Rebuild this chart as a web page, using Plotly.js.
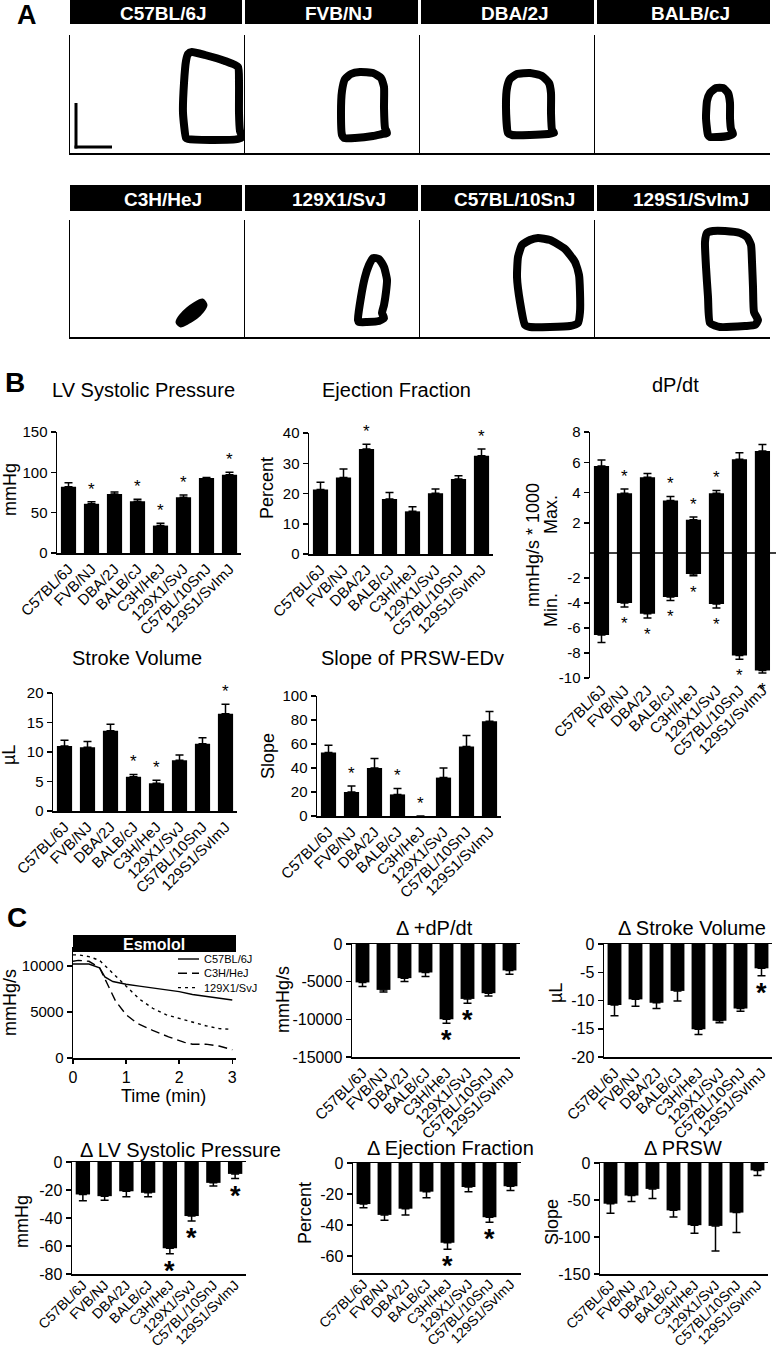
<!DOCTYPE html>
<html><head><meta charset="utf-8">
<script src="https://cdn.plot.ly/plotly-3.0.1.min.js"></script>
<style>html,body{margin:0;padding:0;background:#fff}#chart{width:776px;height:1350px}</style>
</head><body><div id="chart"></div>
<script>
const FONT = 'Liberation Sans, Arial, Helvetica, sans-serif';
const W = 776, H = 1350;
const STRAINS = ['C57BL/6J','FVB/NJ','DBA/2J','BALB/cJ','C3H/HeJ','129X1/SvJ','C57BL/10SnJ','129S1/SvImJ'];

// ---------- Panel A: pressure-volume loops (arbitrary units) ----------
const loopV_C57BL6J = [116,113,114,116,118,122,135,155,168,169,169,170,172,168,140,118,116];
const loopP_C57BL6J = [15,40,70,92,99,101,98,92,86,70,40,22,16,14,13,14,15];
const loopV_FVB = [97,96,97,100,106,115,128,136,139,139,140,142,137,128,110,99,97];
const loopP_FVB = [18,40,62,74,79,81,80,75,66,45,25,20,19,17,15,15,18];
const loopV_DBA = [88,86,87,90,97,110,122,129,131,131,132,134,128,110,92,88];
const loopP_DBA = [20,45,65,74,79,80,77,70,60,40,23,20,19,18,18,20];
const loopV_BALB = [113,111,112,115,121,128,133,135,135,136,138,133,122,115,113];
const loopP_BALB = [18,35,52,60,65,65,60,50,35,24,19,17,16,16,18];
const loopV_C3H = [109,112,119,126,132,134,131,125,117,111,109];
const loopP_C3H = [15,20,27,32,35,32,27,21,16,13,15];
const loopV_129X1 = [113,116,120,124,128,134,139,142,141,139,137,139,134,122,114,113];
const loopP_129X1 = [17,40,60,72,79,78,70,57,45,32,24,19,16,15,15,17];
const loopV_C57BL10 = [105,100,97,98,102,110,118,130,145,155,159,160,160,158,150,130,110,105];
const loopP_C57BL10 = [12,35,60,80,92,97,99,97,88,75,62,45,25,14,11,10,10,12];
const loopV_129S1 = [115,113,111,110,112,118,130,145,152,156,157,158,159,163,160,150,125,115];
const loopP_129S1 = [14,40,70,95,104,106,106,104,100,92,75,50,25,17,12,11,10,14];

// ---------- Panel B ----------
const lvspMean = [82, 61, 73, 64, 34, 69, 93, 97];
const lvspSem  = [5, 2.5, 2.5, 2.5, 3, 3, 0.5, 3];
const lvspSig  = [0,1,0,1,1,1,0,1];
const efMean = [21.3,25.3,34.7,18.2,14.1,20.1,24.8,32.5];
const efSem  = [2.4,2.8,1.6,2.1,1.5,1.4,1.1,2.2];
const efSig  = [0,0,1,0,0,0,0,1];
const dpMaxMean = [5.75,3.95,5.0,3.47,2.2,3.95,6.2,6.75];
const dpMaxSem  = [0.4,0.28,0.26,0.27,0.18,0.19,0.42,0.42];
const dpMaxSig  = [0,1,0,1,1,1,0,0];
const dpMinMean = [-6.55,-4.0,-4.85,-3.52,-1.68,-4.08,-8.2,-9.4];
const dpMinSem  = [0.6,0.32,0.35,0.27,0.13,0.32,0.3,0.2];
const dpMinSig  = [0,1,1,1,1,1,1,1];
const svMean = [11.0,10.8,13.6,5.8,4.7,8.6,11.4,16.5];
const svSem  = [1.0,1.0,1.1,0.4,0.5,0.9,1.0,1.6];
const svSig  = [0,0,0,1,1,0,0,1];
const prswMean = [53,20,40,18,0,32,58,79];
const prswSem  = [6,5,8,5,0,8,9,8];
const prswSig  = [0,1,0,1,1,0,0,0];

// ---------- Panel C: esmolol time course ----------
const tC57 = [0,0.3,0.5,0.6,0.75,1.0,1.25,1.5,1.75,2.0,2.25,2.5,2.75,3.0];
const vC57 = [10200,10200,9800,8800,8300,8000,7800,7600,7400,7200,6900,6700,6500,6300];
const tC3H = [0,0.1,0.3,0.5,0.65,0.8,1.0,1.2,1.5,1.8,2.1,2.25,2.5,2.75,3.0];
const vC3H = [10500,10600,10500,9800,8000,6200,4700,3800,3000,2300,1700,1500,1500,1300,900];
const t129 = [0,0.1,0.3,0.5,0.75,1.0,1.25,1.5,1.75,2.0,2.25,2.5,2.75,3.0];
const v129 = [11200,11200,11000,10600,9200,7800,6400,5400,4700,4300,3900,3500,3200,3100];

// ---------- Panel C: changes with esmolol ----------
const dDpMean = [-5100,-6090,-4530,-3780,-10000,-7290,-6530,-3510];
const dDpSem  = [540,270,450,530,530,580,360,490];
const dDpSig  = [0,0,0,0,1,1,0,0];
const dSvMean = [-10.8,-9.8,-10.4,-8.3,-15.1,-13.6,-11.4,-4.3];
const dSvSem  = [1.9,1.2,1.0,1.8,0.9,0.35,0.5,1.3];
const dSvSig  = [0,0,0,0,0,0,0,1];
const dLvMean = [-23.2,-24.4,-20.9,-22.0,-61.6,-38.6,-14.9,-8.5];
const dLvSem  = [4.5,2.9,4.0,2.9,4.0,3.6,2.2,3.3];
const dLvSig  = [0,0,0,0,1,1,0,1];
const dEfMean = [-26.5,-33.5,-29.5,-18.5,-51.5,-15.5,-35,-15];
const dEfSem  = [2.4,3.5,4.0,4.0,4.2,3.0,3.3,2.8];
const dEfSig  = [0,0,0,0,1,0,1,0];
const dPrswMean = [-55,-44,-35,-64,-84,-85,-67,-10];
const dPrswSem  = [13,8,13,9,11,34,27,7];

// ---------- helpers ----------
const px = x => x / W;
const py = y => 1 - y / H;
const layout = {
  width: W, height: H, margin: {l:0,r:0,t:0,b:0}, showlegend: false,
  paper_bgcolor: '#fff', plot_bgcolor: 'rgba(0,0,0,0)',
  font: {family: FONT, color: '#000', size: 15},
  bargap: 0.34, shapes: [], annotations: []
};
const data = [];
let n = 0;
function addAxes(xd, yd, xo, yo) {
  n++;
  const s = n === 1 ? '' : String(n);
  layout['xaxis' + s] = Object.assign({domain: [px(xd[0]), px(xd[1])], anchor: 'y' + s, fixedrange: true}, xo);
  layout['yaxis' + s] = Object.assign({domain: [py(yd[1]), py(yd[0])], anchor: 'x' + s, fixedrange: true}, yo);
  return {xr: 'x' + s, yr: 'y' + s};
}
function text(t, x, y, size, opts) {
  layout.annotations.push(Object.assign({text: t, x: px(x), y: py(y), xref: 'paper', yref: 'paper',
    showarrow: false, xanchor: 'center', yanchor: 'middle', font: {size: size, color: '#000', family: FONT}}, opts || {}));
}
function line(x0, y0, x1, y1, w) {
  layout.shapes.push({type: 'line', xref: 'paper', yref: 'paper', x0: px(x0), y0: py(y0), x1: px(x1), y1: py(y1),
    line: {color: '#000', width: w}});
}
function rect(x0, y0, x1, y1) {
  layout.shapes.push({type: 'rect', xref: 'paper', yref: 'paper', x0: px(x0), y0: py(y0), x1: px(x1), y1: py(y1),
    line: {width: 0}, fillcolor: '#000'});
}
// tick values between range ends at a step (hyphen minus like the figure)
function ticksFor(range, step) {
  const vals = [];
  const lo = Math.ceil(range[0] / step) * step, hi = Math.floor(range[1] / step) * step;
  for (let v = lo; v <= hi + 1e-9; v += step) vals.push(Math.round(v * 1000) / 1000);
  return {tickvals: vals, ticktext: vals.map(v => String(v))};
}
const yStyle = (size) => ({showline: true, linecolor: '#000', linewidth: 1.5, ticks: 'outside', ticklen: 5,
  tickwidth: 1.5, tickcolor: '#000', showgrid: false, zeroline: false, tickfont: {size: size, color: '#000'}});
const xCat = (mirror, size, standoff) => ({type: 'category', range: [-0.5, 7.5], showline: true, linecolor: '#000', linewidth: 1.5,
  mirror: mirror, ticks: '', showgrid: false, zeroline: false, tickangle: -45, ticklabelstandoff: standoff || 0,
  tickfont: {size: size || 15, color: '#000'}});

// ---------- Panel A ----------
text('<b>A</b>', 27, 15, 27);
const colX = [[70,245],[245,420],[420,595],[595,770]];
const hdrX = [[70,242],[245,418],[421,594],[597,770]];
const rows = [
  {hdr: [0,24], box: [35,153], names: ['C57BL/6J','FVB/NJ','DBA/2J','BALB/cJ'],
   V: [loopV_C57BL6J, loopV_FVB, loopV_DBA, loopV_BALB], P: [loopP_C57BL6J, loopP_FVB, loopP_DBA, loopP_BALB]},
  {hdr: [185,211], box: [220,337], names: ['C3H/HeJ','129X1/SvJ','C57BL/10SnJ','129S1/SvImJ'],
   V: [loopV_C3H, loopV_129X1, loopV_C57BL10, loopV_129S1], P: [loopP_C3H, loopP_129X1, loopP_C57BL10, loopP_129S1]}
];
rows.forEach((r, ri) => {
  for (let i = 0; i < 4; i++) {
    rect(hdrX[i][0], r.hdr[0], hdrX[i][1], r.hdr[1]);
    text('<b>' + r.names[i] + '</b>', (hdrX[i][0] + hdrX[i][1]) / 2 + 7, (r.hdr[0] + r.hdr[1]) / 2 + 1, 19,
      {font: {size: 19, color: '#fff', family: FONT}});
    const ax = addAxes(colX[i], r.box,
      {range: [0, 175], showline: true, linecolor: '#000', linewidth: 1.5, showticklabels: false, ticks: '', showgrid: false, zeroline: false},
      {range: [0, r.box[1] - r.box[0]], showline: true, linecolor: '#000', linewidth: 1.5, showticklabels: false, ticks: '', showgrid: false, zeroline: false});
    const filled = (ri === 1 && i === 0);
    data.push({type: 'scatter', mode: 'lines', x: r.V[i], y: r.P[i], xaxis: ax.xr, yaxis: ax.yr,
      line: {color: '#000', width: filled ? 7 : 8, shape: 'spline', smoothing: 0.5},
      fill: filled ? 'toself' : 'none', fillcolor: '#000', hoverinfo: 'skip'});
  }
});
// scale bar
line(76, 103, 76, 148.5, 3);
line(74.5, 147, 112, 147, 3);

// ---------- bar chart builder ----------
function barChart(c) {
  const neg = !!c.neg;
  const zeros = c.mean.map(() => 0);
  const tk = c.tickvals ? {tickvals: c.tickvals, ticktext: c.tickvals.map(String)} : ticksFor(c.range, c.dtick);
  const yo = Object.assign(yStyle(c.tick || 15), {range: c.range}, tk);
  const xo = c.xo || xCat(neg, c.xfont, c.standoff);
  const ax = addAxes(c.xd, c.yd, xo, yo);
  data.push({type: 'bar', x: STRAINS, y: c.mean, xaxis: ax.xr, yaxis: ax.yr, marker: {color: '#000', line: {width: 0}},
    error_y: {type: 'data', symmetric: false, array: neg ? zeros : c.sem, arrayminus: neg ? c.sem : zeros,
      color: '#000', thickness: 1.5, width: 4}, hoverinfo: 'skip'});
  if (c.sig) c.sig.forEach((s, i) => {
    if (!s) return;
    const big = c.bigStar;
    layout.annotations.push({xref: ax.xr, yref: ax.yr, x: i, y: neg ? c.mean[i] - c.sem[i] : c.mean[i] + c.sem[i],
      text: big ? '<b>*</b>' : '*', showarrow: false, xanchor: 'center', yanchor: neg ? 'top' : 'bottom',
      yshift: neg ? (big ? 0 : -5) : 1, font: {size: big ? 27 : 17, color: '#000', family: FONT}});
  });
  if (c.title) text(c.title, c.titlePos[0], c.titlePos[1], 20);
  if (c.ytitle) text(c.ytitle, c.ytPos[0], c.ytPos[1], 18, {textangle: -90});
  return ax;
}

// ---------- Panel B ----------
text('<b>B</b>', 15, 383, 28);
barChart({xd: [57,241], yd: [432,553], range: [0,150], dtick: 50, mean: lvspMean, sem: lvspSem, sig: lvspSig,
  title: 'LV Systolic Pressure', titlePos: [143,390], ytitle: 'mmHg', ytPos: [10,490]});
barChart({xd: [309,493], yd: [433,554], range: [0,40], dtick: 10, mean: efMean, sem: efSem, sig: efSig,
  title: 'Ejection Fraction', titlePos: [397,390], ytitle: 'Percent', ytPos: [267,488]});
// dP/dt: max (upper) and min (lower) halves share the zero line
barChart({xd: [590,776], yd: [432,553], range: [0,8], tickvals: [2,4,6,8], mean: dpMaxMean, sem: dpMaxSem, sig: dpMaxSig,
  xo: {type: 'category', range: [-0.5, 7.59], visible: false}, title: 'dP/dt', titlePos: [675,385]});
barChart({xd: [590,776], yd: [553,678], range: [-10,0], tickvals: [-2,-4,-6,-8,-10], mean: dpMinMean, sem: dpMinSem, sig: dpMinSig, neg: true,
  xo: {type: 'category', range: [-0.5, 7.59], showline: false, ticks: '', showgrid: false, zeroline: false, tickangle: -45, tickfont: {size: 15, color: '#000'}}});
line(590, 553, 776, 553, 1.5);
text('mmHg/s * 1000', 533, 545, 18, {textangle: -90});
text('Max.', 551, 515, 18, {textangle: -90});
text('Min.', 551, 610, 18, {textangle: -90});
barChart({xd: [53,237], yd: [693,811], range: [0,20], dtick: 5, mean: svMean, sem: svSem, sig: svSig,
  title: 'Stroke Volume', titlePos: [137,658], ytitle: 'µL', ytPos: [9,755]});
barChart({xd: [317,501], yd: [696,816], range: [0,100], dtick: 20, mean: prswMean, sem: prswSem, sig: prswSig,
  title: 'Slope of PRSW-EDv', titlePos: [412,658], ytitle: 'Slope', ytPos: [268,756]});

// ---------- Panel C ----------
text('<b>C</b>', 17, 917, 28);
rect(73, 935, 236, 952);
text('<b>Esmolol</b>', 154, 944, 16, {font: {size: 16, color: '#fff', family: FONT}});
const axL = addAxes([73,236], [947,1058],
  {range: [0, 3.07], showline: true, linecolor: '#000', linewidth: 1.5, ticks: 'outside', ticklen: 4, tickwidth: 1.5,
   tickcolor: '#000', tickvals: [0,1,2,3], ticktext: ['0','1','2','3'], showgrid: false, zeroline: false, tickfont: {size: 16, color: '#000'}},
  Object.assign(yStyle(15), {range: [0, 12050], tickvals: [0,5000,10000], ticktext: ['0','5000','10000']}));
const series = [
  {t: tC57, v: vC57, dash: 'solid', name: 'C57BL/6J'},
  {t: tC3H, v: vC3H, dash: '9px,5px', name: 'C3H/HeJ'},
  {t: t129, v: v129, dash: '3px,4px', name: '129X1/SvJ'}
];
const legY0 = 959, legStep = 14.3;
series.forEach((s, k) => {
  data.push({type: 'scatter', mode: 'lines', x: s.t, y: s.v, xaxis: axL.xr, yaxis: axL.yr,
    line: {color: '#000', width: 1.4, dash: s.dash}, hoverinfo: 'skip', name: s.name});
  const ly = legY0 + k * legStep;
  layout.shapes.push({type: 'line', xref: 'paper', yref: 'paper', x0: px(178), x1: px(199), y0: py(ly), y1: py(ly),
    line: {color: '#000', width: 1.4, dash: s.dash}});
});
text(series.map(s => s.name).join('<br>'), 202, legY0 + legStep, 11, {xanchor: 'left', align: 'left'});
text('Time (min)', 163, 1096, 18);
text('mmHg/s', 10, 1003, 18, {textangle: -90});

barChart({xd: [352,520], yd: [944,1057], range: [-15000,0], dtick: 5000, tick: 16, mean: dDpMean, sem: dDpSem, sig: dDpSig, neg: true, bigStar: true,
  title: 'Δ +dP/dt', titlePos: [434,928], ytitle: 'mmHg/s', ytPos: [283,1000]});
barChart({xd: [604,772], yd: [944,1057], range: [-20,0], dtick: 5, tick: 16, mean: dSvMean, sem: dSvSem, sig: dSvSig, neg: true, bigStar: true,
  title: 'Δ Stroke Volume', titlePos: [692,928], ytitle: 'µL', ytPos: [556,993]});
barChart({xd: [72,246], yd: [1162,1274], range: [-80,0], dtick: 20, tick: 16, mean: dLvMean, sem: dLvSem, sig: dLvSig, neg: true, bigStar: true,
  xfont: 14, standoff: -4,
  title: 'Δ LV Systolic Pressure', titlePos: [180,1150], ytitle: 'mmHg', ytPos: [22,1222]});
barChart({xd: [353,521], yd: [1163,1273], range: [-71,0], dtick: 20, tick: 16, mean: dEfMean, sem: dEfSem, sig: dEfSig, neg: true, bigStar: true,
  xfont: 14, standoff: -4,
  title: 'Δ Ejection Fraction', titlePos: [450,1148], ytitle: 'Percent', ytPos: [305,1213]});
barChart({xd: [600,768], yd: [1163,1274], range: [-150,0], dtick: 50, tick: 16, mean: dPrswMean, sem: dPrswSem, neg: true,
  xfont: 14, standoff: -4,
  title: 'Δ PRSW', titlePos: [683,1148], ytitle: 'Slope', ytPos: [552,1222]});

Plotly.newPlot('chart', data, layout, {staticPlot: true, displayModeBar: false});
</script>
</body></html>
